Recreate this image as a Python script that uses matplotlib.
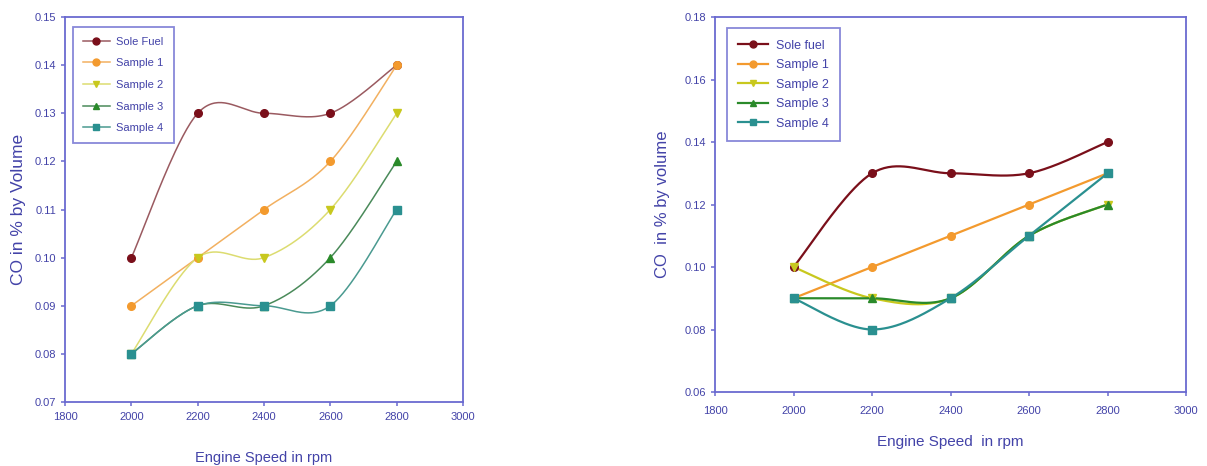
import numpy as np
import matplotlib
matplotlib.use("Agg")
import matplotlib.pyplot as plt
from matplotlib.lines import Line2D

plt.rcParams['font.family'] = ['Liberation Sans', 'DejaVu Sans']

speed = [2000, 2200, 2400, 2600, 2800]

# Left chart
left_labels = ["Sole Fuel", "Sample 1", "Sample 2", "Sample 3", "Sample 4"]
left_sole = [0.10, 0.13, 0.13, 0.13, 0.14]
left_s1 = [0.09, 0.10, 0.11, 0.12, 0.14]
left_s2 = [0.08, 0.10, 0.10, 0.11, 0.13]
left_s3 = [0.08, 0.09, 0.09, 0.10, 0.12]
left_s4 = [0.08, 0.09, 0.09, 0.09, 0.11]

# Right chart
right_labels = ["Sole fuel", "Sample 1", "Sample 2", "Sample 3", "Sample 4"]
right_sole = [0.10, 0.13, 0.13, 0.13, 0.14]
right_s1 = [0.09, 0.10, 0.11, 0.12, 0.13]
right_s2 = [0.10, 0.09, 0.09, 0.11, 0.12]
right_s3 = [0.09, 0.09, 0.09, 0.11, 0.12]
right_s4 = [0.09, 0.08, 0.09, 0.11, 0.13]

left_ticks_y = [0.07, 0.08, 0.09, 0.10, 0.11, 0.12, 0.13, 0.14, 0.15]
right_ticks_y = [0.06, 0.08, 0.10, 0.12, 0.14, 0.16, 0.18]
x_ticks = [1800, 2000, 2200, 2400, 2600, 2800, 3000]

colors = ["#7a0f1a", "#f39a2e", "#c8c81e", "#2a8a2a", "#2a9090"]
line_colors_left = ["#9a5a60", "#f2b060", "#dcdc70", "#4a8a5a", "#4a9a90"]
markers = ["o", "o", "v", "^", "s"]
text_color = "#4343a8"
spine_color = "#6a6ad0"


def smooth(x, y, n=40):
    x = np.asarray(x, float)
    y = np.asarray(y, float)
    P = np.column_stack([x, y])
    Pe = np.vstack([P[0], P, P[-1]])
    out = []
    t = np.linspace(0, 1, n)[:, None]
    for i in range(len(P) - 1):
        p0 = Pe[i + 1]
        p3 = Pe[i + 2]
        c1 = p0 + (Pe[i + 2] - Pe[i]) / 6.0
        c2 = p3 - (Pe[i + 3] - Pe[i + 1]) / 6.0
        seg = ((1 - t) ** 3) * p0 + 3 * ((1 - t) ** 2) * t * c1 + 3 * (1 - t) * t ** 2 * c2 + t ** 3 * p3
        out.append(seg if i == 0 else seg[1:])
    out = np.vstack(out)
    return out[:, 0], out[:, 1]


fig = plt.figure(figsize=(12.07, 4.66), dpi=100)
ax1 = fig.add_axes([0.0539, 0.1373, 0.3297, 0.8262])
ax2 = fig.add_axes([0.5924, 0.1588, 0.3903, 0.8047])


def draw(ax, series, labels, lcolors, yticks, ylabel, xlabel, ylim, fs, lw,
         leg_anchor, ylabelpad, xlabelpad, legfs, labfs_y, labfs_x,
         tickpad_x, labelspacing):
    handles = []
    for vals, lab, c, lc, m in zip(series, labels, colors, lcolors, markers):
        sx, sy = smooth(speed, vals)
        ax.plot(sx, sy, color=lc, lw=lw, zorder=2)
        ax.plot(speed, vals, linestyle='none', marker=m, color=c, markersize=5.5,
                markeredgecolor=c, zorder=3)
        handles.append(Line2D([0], [0], color=lc, lw=lw, marker=m, markersize=5,
                              markerfacecolor=c, markeredgecolor=c, label=lab))
    ax.set_xlim(1800, 3000)
    ax.set_ylim(*ylim)
    ax.set_xticks(x_ticks)
    ax.set_yticks(yticks)
    ax.set_yticklabels([f"{v:.2f}" for v in yticks])
    for s in ax.spines.values():
        s.set_color(spine_color)
        s.set_linewidth(1.3)
    ax.tick_params(axis='both', colors=spine_color, labelcolor=text_color,
                   labelsize=fs, direction='out', length=3, width=1.1)
    ax.tick_params(axis='x', pad=tickpad_x)
    ax.set_ylabel(ylabel, color=text_color, fontsize=labfs_y, labelpad=ylabelpad)
    ax.set_xlabel(xlabel, color=text_color, fontsize=labfs_x, labelpad=xlabelpad)
    leg = ax.legend(handles=handles, loc='upper left', bbox_to_anchor=leg_anchor,
                    frameon=True, fancybox=False, handlelength=2.4,
                    borderpad=0.9, labelspacing=labelspacing, handletextpad=0.6,
                    borderaxespad=0, prop={'size': legfs})
    leg.get_frame().set_edgecolor(spine_color)
    leg.get_frame().set_linewidth(1.3)
    for t in leg.get_texts():
        t.set_color(text_color)


draw(ax1, [left_sole, left_s1, left_s2, left_s3, left_s4], left_labels, line_colors_left,
     left_ticks_y, "CO in % by Volume", "Engine Speed in rpm", (0.07, 0.15), 8, 1.1,
     (0.02, 0.975), 6, 21, 8, 12.5, 10.5, 4, 1.05)
draw(ax2, [right_sole, right_s1, right_s2, right_s3, right_s4], right_labels, colors,
     right_ticks_y, "CO  in % by volume", "Engine Speed  in rpm", (0.06, 0.18), 8, 1.6,
     (0.025, 0.97), 10, 14, 9, 12, 11, 7, 0.6)

fig.savefig("out.png", dpi=100)
